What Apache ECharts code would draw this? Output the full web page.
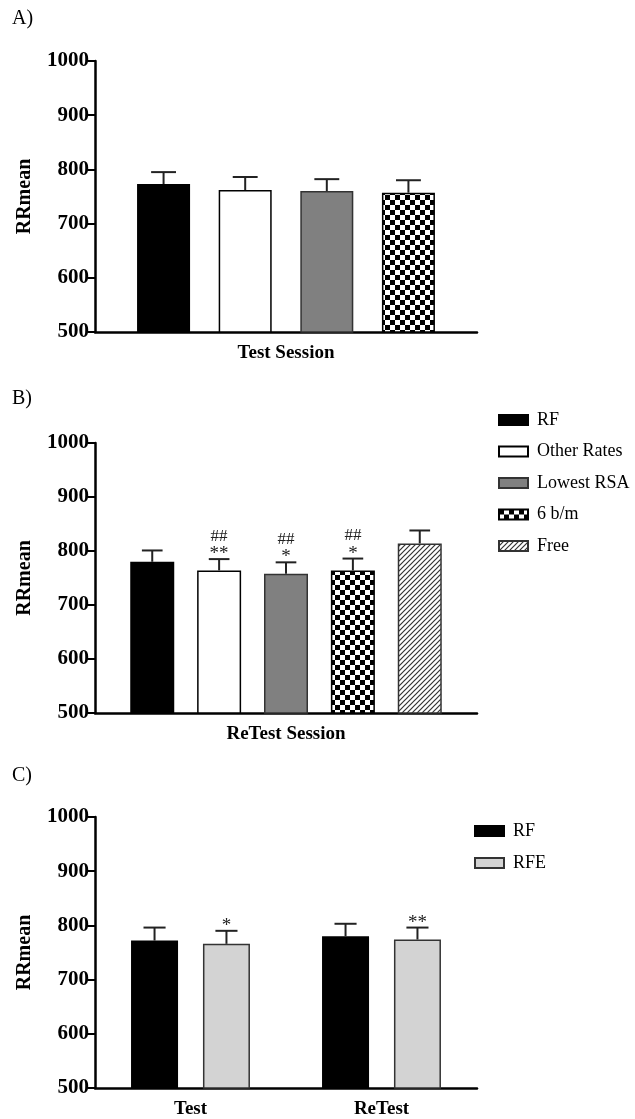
<!DOCTYPE html>
<html>
<head>
<meta charset="utf-8">
<script src="https://cdn.jsdelivr.net/npm/echarts@6/dist/echarts.min.js"></script>
<style>
  html, body { margin: 0; padding: 0; background: #fff; }
  #main { width: 635px; height: 1119px; }
</style>
</head>
<body>
<div id="main"></div>
<script>
// A) Test Session
const catA = ['Test Session'];
const namesA = ['RF', 'Other Rates', 'Lowest RSA', '6 b/m'];
const meanA = [773, 762, 760, 757];
const errA = [22, 24, 22, 23];

// B) ReTest Session
const catB = ['ReTest Session'];
const namesB = ['RF', 'Other Rates', 'Lowest RSA', '6 b/m', 'Free'];
const meanB = [780, 764, 758, 764, 814];
const errB = [21, 21, 21, 22, 24];
const hashB = ['', '##', '##', '##', ''];
const starB = ['', '**', '*', '*', ''];

// C) Test vs ReTest
const catC = ['Test', 'ReTest'];
const namesC = ['RF', 'RFE'];
const rfC = [772, 780];
const rfErrC = [24, 23];
const rfeC = [766, 774];
const rfeErrC = [24, 22];
const starC = ['*', '**'];

const yMin = 500, yMax = 1000, yStep = 100;

const serif = 'Liberation Serif';

// fill patterns
function checker() {
  const c = document.createElement('canvas');
  c.width = 10; c.height = 10;
  const g = c.getContext('2d');
  g.fillStyle = '#fff'; g.fillRect(0, 0, 10, 10);
  g.fillStyle = '#000';
  g.fillRect(0, 0, 5, 5); g.fillRect(5, 5, 5, 5);
  return c;
}
function hatch() {
  const c = document.createElement('canvas');
  c.width = 5; c.height = 5;
  const g = c.getContext('2d');
  g.fillStyle = '#fff'; g.fillRect(0, 0, 5, 5);
  g.strokeStyle = '#333'; g.lineWidth = 1.2;
  g.beginPath();
  g.moveTo(-1, 6); g.lineTo(6, -1);
  g.moveTo(-1, 1); g.lineTo(1, -1);
  g.moveTo(4, 6); g.lineTo(6, 4);
  g.stroke();
  return c;
}

const fills = {
  'RF': { color: '#000', borderColor: '#000' },
  'Other Rates': { color: '#fff', borderColor: '#000' },
  'Lowest RSA': { color: '#808080', borderColor: '#333' },
  '6 b/m': { color: { image: checker(), repeat: 'repeat' }, borderColor: '#000' },
  'Free': { color: { image: hatch(), repeat: 'repeat' }, borderColor: '#333' },
  'RFE': { color: '#d3d3d3', borderColor: '#333' }
};

function xAxisFor(i, cats) {
  return {
    type: 'category', gridIndex: i, data: cats,
    axisLine: { lineStyle: { color: '#000', width: 2.5 } },
    axisTick: { alignWithLabel: true, length: 7, lineStyle: { color: '#000', width: 2 } },
    axisLabel: { color: '#000', fontFamily: serif, fontWeight: 'bold', fontSize: 19, margin: 12 }
  };
}
function yAxisFor(i) {
  return {
    type: 'value', gridIndex: i, min: yMin, max: yMax, interval: yStep,
    name: 'RRmean', nameLocation: 'middle', nameGap: 60,
    nameTextStyle: { color: '#000', fontFamily: serif, fontWeight: 'bold', fontSize: 20 },
    axisLine: { show: true, lineStyle: { color: '#000', width: 2.5 } },
    axisTick: { show: true, length: 7, lineStyle: { color: '#000', width: 2 } },
    splitLine: { show: false },
    axisLabel: {
      color: '#000', fontFamily: serif, fontWeight: 'bold', fontSize: 21, margin: 6,
      formatter: v => String(v)
    }
  };
}

function barSeries(i, name, data, bw, gap) {
  return {
    type: 'bar', name: name, xAxisIndex: i, yAxisIndex: i, data: data,
    barWidth: bw, barGap: gap * 100 + '%',
    itemStyle: Object.assign({ borderWidth: 1.5 }, fills[name]),
    emphasis: { disabled: true }, z: 2
  };
}

// error bars (upper only) + significance marks
function errSeries(i, items, n, bw, gap) {
  return {
    type: 'custom', xAxisIndex: i, yAxisIndex: i, z: 3, silent: true,
    data: items.map(it => [it.cat, it.mean + it.err]),
    renderItem: function (params, api) {
      const it = items[params.dataIndex];
      const base = api.coord([it.cat, it.mean]);
      const top = api.coord([it.cat, it.mean + it.err]);
      const x = base[0] + (it.s - (n - 1) / 2) * bw * (1 + gap);
      const cap = bw * 0.47 / 2;
      const st = { stroke: '#222', lineWidth: 2 };
      const kids = [
        { type: 'line', shape: { x1: x, y1: base[1], x2: x, y2: top[1] }, style: st },
        { type: 'line', shape: { x1: x - cap, y1: top[1], x2: x + cap, y2: top[1] }, style: st }
      ];
      const txt = (t, dy, fs) => ({
        type: 'text', x: x, y: top[1] - dy,
        style: { text: t, fill: '#222', fontFamily: serif, fontSize: fs, align: 'center', verticalAlign: 'middle' }
      });
      if (it.star) kids.push(txt(it.star, 5, 19));
      if (it.hash) kids.push(txt(it.hash, 23, 17));
      return { type: 'group', children: kids };
    }
  };
}

const series = [];
const bwA = 53, gA = 0.54;
namesA.forEach((nm, s) => series.push(barSeries(0, nm, [meanA[s]], bwA, gA)));
series.push(errSeries(0, namesA.map((nm, s) => ({ cat: 0, s: s, mean: meanA[s], err: errA[s] })), namesA.length, bwA, gA));

const bwB = 44, gB = 0.52;
namesB.forEach((nm, s) => series.push(barSeries(1, nm, [meanB[s]], bwB, gB)));
series.push(errSeries(1, namesB.map((nm, s) => ({ cat: 0, s: s, mean: meanB[s], err: errB[s], hash: hashB[s], star: starB[s] })), namesB.length, bwB, gB));

const bwC = 47, gC = 0.53;
series.push(barSeries(2, 'RF', rfC, bwC, gC));
series.push(barSeries(2, 'RFE', rfeC, bwC, gC));
const itemsC = [];
catC.forEach((c, k) => {
  itemsC.push({ cat: k, s: 0, mean: rfC[k], err: rfErrC[k] });
  itemsC.push({ cat: k, s: 1, mean: rfeC[k], err: rfeErrC[k], star: starC[k] });
});
series.push(errSeries(2, itemsC, 2, bwC, gC));

const legendBase = {
  orient: 'vertical', icon: 'rect', itemWidth: 29, itemHeight: 10,
  selectedMode: false,
  textStyle: { color: '#000', fontFamily: serif, fontSize: 18, lineHeight: 20, padding: [0, 0, 0, 4] }
};

const chart = echarts.init(document.getElementById('main'));
chart.setOption({
  backgroundColor: '#fff',
  animation: false,
  grid: [
    { left: 95, right: 158, top: 61, height: 271 },
    { left: 95, right: 158, top: 443, height: 270 },
    { left: 95, right: 158, top: 817, height: 271 }
  ],
  xAxis: [xAxisFor(0, catA), xAxisFor(1, catB), xAxisFor(2, catC)],
  yAxis: [yAxisFor(0), yAxisFor(1), yAxisFor(2)],
  legend: [
    Object.assign({ data: namesB, left: 493, top: 405, itemGap: 11.5 }, legendBase),
    Object.assign({ data: namesC, left: 469, top: 816, itemGap: 12 }, legendBase)
  ],
  graphic: [
    { type: 'text', left: 12, top: 9, style: { text: 'A)', fontFamily: serif, fontSize: 20, fill: '#000' } },
    { type: 'text', left: 12, top: 389, style: { text: 'B)', fontFamily: serif, fontSize: 20, fill: '#000' } },
    { type: 'text', left: 12, top: 766, style: { text: 'C)', fontFamily: serif, fontSize: 20, fill: '#000' } }
  ],
  series: series
});
</script>
</body>
</html>
